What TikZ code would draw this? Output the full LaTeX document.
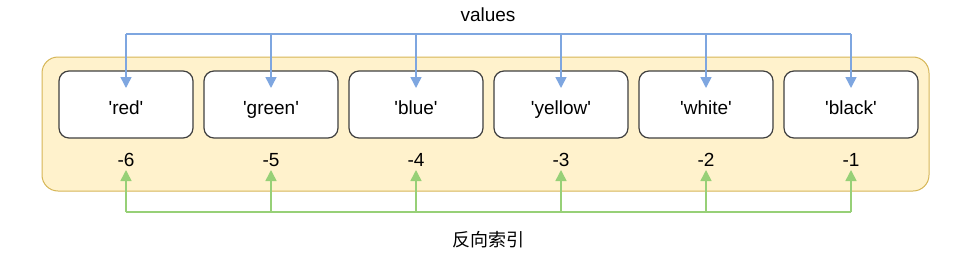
\documentclass[tikz,border=0pt]{standalone}
\usepackage{fontspec}
\setmainfont{Liberation Sans}[Ligatures=NoCommon]
\newfontfamily\cjk{Noto Sans CJK SC}
\usetikzlibrary{arrows.meta}
\definecolor{contfill}{HTML}{FFF2CC}
\definecolor{contdraw}{HTML}{D6B656}
\definecolor{bluec}{HTML}{7EA6E0}
\definecolor{greenc}{HTML}{97D077}
\newcommand{\sq}{\textquotesingle}
\begin{document}
\begin{tikzpicture}[x=1pt,y=-1pt,
  valbox/.style={draw=black!75, line width=1.2pt, fill=white, rounded corners=10pt,
    minimum width=134pt, minimum height=67pt, inner sep=0pt, text height=20pt, text depth=0pt,
    font=\fontsize{19}{22}\selectfont},
  idx/.style={inner sep=0pt, font=\fontsize{19}{22}\selectfont},
  bline/.style={draw=bluec, line width=1.5pt},
  gline/.style={draw=greenc, line width=1.5pt},
  tip/.style={-{Triangle[length=11pt,width=11pt]}}
]
\useasboundingbox (0,0) rectangle (965,257);
\node[draw=contdraw, fill=contfill, line width=1pt, rounded corners=16pt,
  minimum width=887pt, minimum height=134pt, inner sep=0pt] (cont) at (485.5,124) {};
\foreach \i/\t/\n in {1/red/-6, 2/green/-5, 3/blue/-4, 4/yellow/-3, 5/white/-2, 6/black/-1}{
  \node[valbox] (b\i) at ({126+145*(\i-1)},104.5) {\sq\t\sq};
  \node[idx] (n\i) at ({126+145*(\i-1)},160) {\n};
  \coordinate (vt\i) at ({126+145*(\i-1)},34);
  \coordinate (gb\i) at ({126+145*(\i-1)},212);
}
\node[font=\fontsize{19}{22}\selectfont] (vlab) at (488,15) {values};
\node[font=\fontsize{18}{22}\selectfont\cjk] (rlab) at (488,240) {反向索引};
\draw[bline] (vt1) -- (vt6);
\draw[gline] (gb1) -- (gb6);
\foreach \i in {1,...,6}{
  \draw[bline, tip, fill=bluec] (vt\i) -- ([yshift=16.5pt]b\i.center);
  \draw[gline, tip, fill=greenc] (gb\i) -- ([yshift=-10pt]n\i.center);
}
\end{tikzpicture}
\end{document}
